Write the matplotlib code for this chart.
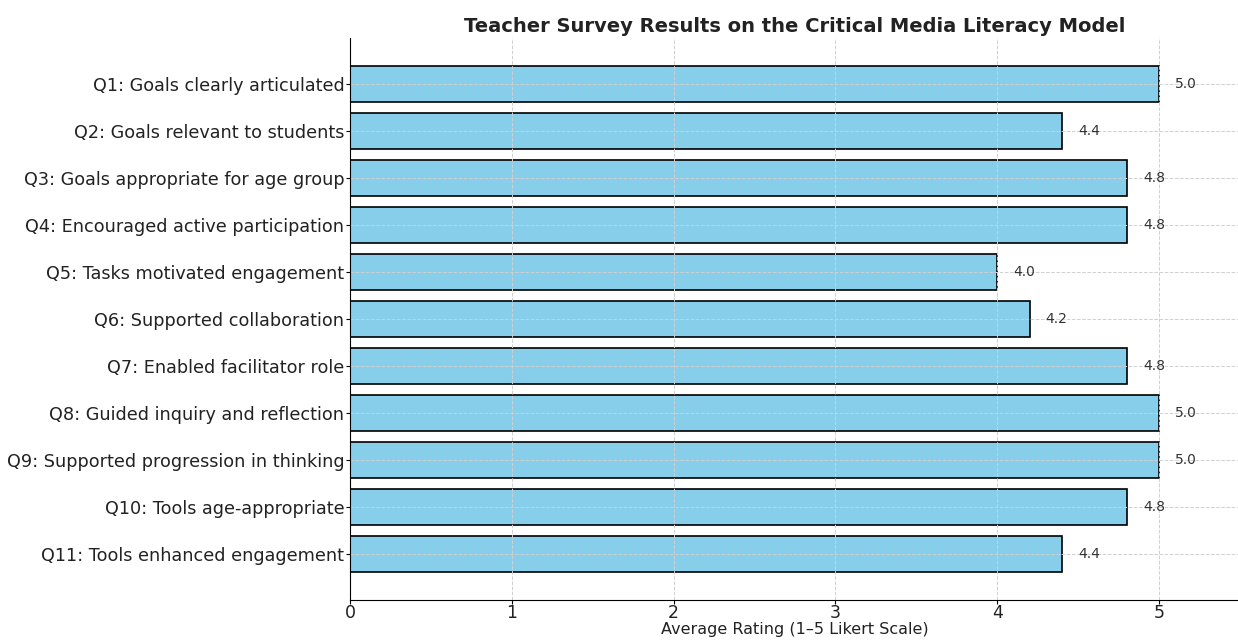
import matplotlib.pyplot as plt
import numpy as np

questions = [
    'Q1: Goals clearly articulated',
    'Q2: Goals relevant to students',
    'Q3: Goals appropriate for age group',
    'Q4: Encouraged active participation',
    'Q5: Tasks motivated engagement',
    'Q6: Supported collaboration',
    'Q7: Enabled facilitator role',
    'Q8: Guided inquiry and reflection',
    'Q9: Supported progression in thinking',
    'Q10: Tools age-appropriate',
    'Q11: Tools enhanced engagement',
]
ratings = [5.0, 4.4, 4.8, 4.8, 4.0, 4.2, 4.8, 5.0, 5.0, 4.8, 4.4]

fig = plt.figure(figsize=(12.38, 6.41), dpi=100)
ax = fig.add_axes([0.2827, 0.0640, 0.7189, 0.877])

y = np.arange(len(questions))
ax.barh(y, ratings, height=0.78, color='skyblue', edgecolor='black', linewidth=1.2)
for yi, v in zip(y, ratings):
    ax.text(v + 0.1, yi, f'{v:.1f}', va='center', ha='left', fontsize=10, color='#333333')

ax.set_yticks(y)
ax.set_yticklabels(questions, fontsize=12.7, color='#222222')
ax.set_ylim(10.98, -0.98)
ax.set_xlim(0, 5.5)
ax.set_xticks([0, 1, 2, 3, 4, 5])
ax.tick_params(axis='x', labelsize=12.5, labelcolor='#222222', length=3, pad=0)
ax.tick_params(axis='y', length=3, pad=1)
ax.set_xlabel('Average Rating (1–5 Likert Scale)', fontsize=11.5, color='#222222', labelpad=0)
ax.set_title('Teacher Survey Results on the Critical Media Literacy Model',
             fontsize=14, fontweight='bold', color='#222222', pad=4)
ax.grid(True, linestyle='--', color='#d0d0d0', linewidth=0.7)
ax.set_axisbelow(False)
ax.spines['top'].set_visible(False)
ax.spines['right'].set_visible(False)
ax.spines['left'].set_zorder(3)
ax.spines['bottom'].set_zorder(3)

plt.savefig('out.png', dpi=100)
